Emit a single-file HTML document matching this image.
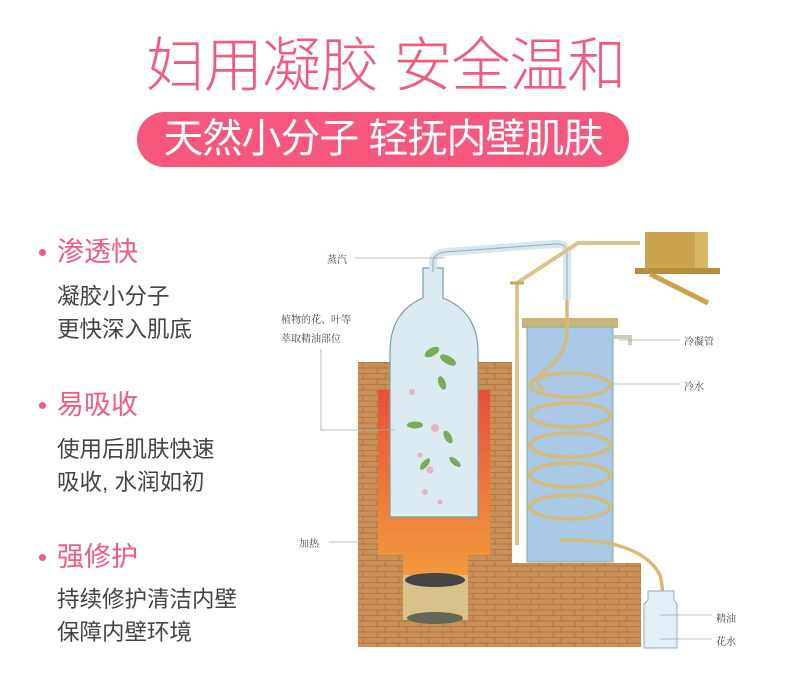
<!DOCTYPE html>
<html><head><meta charset="utf-8"><style>
html,body{margin:0;padding:0;background:#fff;}
body{width:796px;height:698px;position:relative;overflow:hidden;font-family:"Liberation Sans","Noto Sans CJK SC",sans-serif;}
.t{position:absolute;white-space:nowrap;}
.title{left:146px;top:32px;font-size:59px;color:#f25a7e;line-height:68px;letter-spacing:-1px;font-weight:300;}
.pill{position:absolute;left:137px;top:112px;width:492px;height:55px;border-radius:28px;background:#f5587c;}
.pilltxt{left:137px;width:492px;text-align:center;top:112px;font-size:40px;line-height:55px;color:#fff;letter-spacing:-1px;}
.h{font-size:27px;color:#f25a7e;line-height:32px;}
.b{font-size:22.5px;color:#444;line-height:28px;}
.dot{position:absolute;left:39px;width:7px;height:7px;border-radius:50%;background:#f25a7e;}
.lab{position:absolute;font-size:10px;color:#444;font-family:"Noto Serif CJK SC","Liberation Serif",serif;white-space:nowrap;}
</style></head><body>
<div class="t title">妇用凝胶 安全温和</div>
<div class="pill"></div>
<div class="t pilltxt">天然小分子 轻抚内壁肌肤</div>

<div class="dot" style="top:249px"></div><div class="t h" style="left:57px;top:236px">渗透快</div>
<div class="t b" style="left:57px;top:283px">凝胶小分子</div>
<div class="t b" style="left:57px;top:316px">更快深入肌底</div>
<div class="dot" style="top:402px"></div><div class="t h" style="left:57px;top:389px">易吸收</div>
<div class="t b" style="left:57px;top:436px">使用后肌肤快速</div>
<div class="t b" style="left:57px;top:469px">吸收, 水润如初</div>
<div class="dot" style="top:554px"></div><div class="t h" style="left:57px;top:541px">强修护</div>
<div class="t b" style="left:57px;top:586px">持续修护清洁内壁</div>
<div class="t b" style="left:57px;top:619px">保障内壁环境</div>

<svg style="position:absolute;left:0;top:0" width="796" height="698">
<defs>
<pattern id="br" width="22" height="11" patternUnits="userSpaceOnUse">
<rect width="22" height="11" fill="#c99057"/>
<path d="M0 10.5H22M11 0V5.5M0 5H22M3 5.5V11" stroke="#a9713d" stroke-width="0.8" fill="none"/>
</pattern>
<linearGradient id="fl" x1="0" y1="0" x2="0" y2="1"><stop offset="0" stop-color="#e9503a"/><stop offset="1" stop-color="#f29a3c"/></linearGradient>
</defs>
<!-- bricks -->
<rect x="358" y="362" width="154" height="285" fill="url(#br)"/>
<rect x="512" y="563" width="129" height="84" fill="url(#br)"/>
<!-- fire cavity -->
<path d="M378 390 H490 V555 H468 V575 H403 V555 H378Z" fill="url(#fl)"/>
<rect x="403" y="575" width="65" height="45" fill="#d8c28a"/>
<ellipse cx="435" cy="580" rx="30" ry="7" fill="#444"/>
<ellipse cx="435" cy="618" rx="28" ry="6" fill="#665"/>
<!-- flask -->
<path d="M423 268 V298 Q390 312 390 352 V517 H478 V352 Q478 312 443 298 V268 Z" fill="#dceaf2" stroke="#7a9aa8" stroke-width="1.2"/>
<!-- leaves -->
<g fill="#7aab5a"><ellipse cx="432" cy="352" rx="8" ry="4" transform="rotate(-30 432 352)"/><ellipse cx="448" cy="360" rx="9" ry="4" transform="rotate(30 448 360)"/><ellipse cx="442" cy="383" rx="7" ry="3.5" transform="rotate(70 442 383)"/><ellipse cx="415" cy="425" rx="8" ry="3.5"/><ellipse cx="448" cy="437" rx="7" ry="3.5" transform="rotate(60 448 437)"/><ellipse cx="425" cy="464" rx="7" ry="3" transform="rotate(-50 425 464)"/><ellipse cx="455" cy="462" rx="7" ry="3" transform="rotate(40 455 462)"/></g>
<g fill="#e8b3c6"><circle cx="412" cy="392" r="3"/><circle cx="435" cy="428" r="4"/><circle cx="430" cy="470" r="3.5"/><circle cx="425" cy="492" r="3"/><circle cx="440" cy="502" r="2.5"/><circle cx="420" cy="455" r="2.5"/></g>
<!-- pipe from flask -->
<path d="M433 272 V262 Q433 254 445 252 L555 244 Q567 243 567 254 V300" fill="none" stroke="#d8e6ee" stroke-width="8"/>
<path d="M433 272 V262 Q433 254 445 252 L555 244 Q567 243 567 254 V300" fill="none" stroke="#9ab" stroke-width="1"/>
<!-- side tube -->
<path d="M640 243 H578 L517 283 V545" fill="none" stroke="#d9c58a" stroke-width="4"/>
<path d="M510 283 H524" stroke="#c9a95a" stroke-width="3"/>
<!-- box -->
<rect x="645" y="232" width="50" height="37" fill="#c9a34e"/>
<path d="M695 232 L708 232 L708 269 H695Z" fill="#d8b765"/>
<rect x="635" y="268" width="85" height="6" fill="#b98d3e"/>
<path d="M650 274 L708 303" stroke="#c9a34e" stroke-width="5"/>
<!-- tank -->
<rect x="522" y="318" width="96" height="10" fill="#c9b47a"/>
<rect x="527" y="327" width="86" height="235" fill="#a8c8e6" stroke="#8a9" stroke-width="1"/>
<path d="M613 337 H630 V345" fill="none" stroke="#ccb" stroke-width="4"/>
<!-- coil -->
<g fill="none" stroke="#d4bb7a" stroke-width="3.5">
<path d="M567 300 V330 Q567 355 545 370 Q530 383 545 390"/>
<ellipse cx="570" cy="385" rx="40" ry="12"/>
<ellipse cx="570" cy="415" rx="40" ry="12"/>
<ellipse cx="570" cy="445" rx="40" ry="12"/>
<ellipse cx="570" cy="475" rx="40" ry="12"/>
<ellipse cx="570" cy="507" rx="40" ry="12"/>
<path d="M560 540 Q640 538 660 575 Q666 600 658 620"/>
</g>
<!-- jar -->
<path d="M648 591 H674 V600 L677 604 V648 H644 V604 L648 600Z" fill="#e3eef6" stroke="#9ab" stroke-width="1"/>
<!-- leader lines -->
<g stroke="#aaa" stroke-width="0.8" fill="none">
<path d="M355 258 H445"/>
<path d="M321 349 V430 H395"/>
<path d="M618 340 H680"/>
<path d="M614 384 H680"/>
<path d="M329 542 H358"/>
<path d="M660 615 H712"/>
<path d="M660 639 H712"/>
</g>
</svg>
<div class="lab" style="left:327px;top:251px">蒸汽</div>
<div class="lab" style="left:281px;top:311px">植物的花、叶等</div>
<div class="lab" style="left:281px;top:330px">萃取精油部位</div>
<div class="lab" style="left:684px;top:333px">冷凝管</div>
<div class="lab" style="left:684px;top:378px">冷水</div>
<div class="lab" style="left:299px;top:535px">加热</div>
<div class="lab" style="left:716px;top:610px">精油</div>
<div class="lab" style="left:716px;top:633px">花水</div>
</body></html>
